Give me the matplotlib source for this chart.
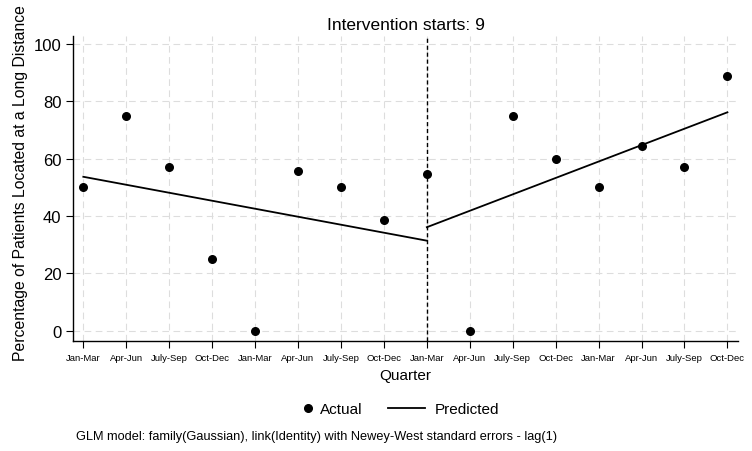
import matplotlib
matplotlib.use("Agg")
import matplotlib.pyplot as plt
from matplotlib.lines import Line2D

plt.rcParams['font.family'] = ['Liberation Sans', 'DejaVu Sans']

quarters = ["Jan-Mar", "Apr-Jun", "July-Sep", "Oct-Dec", "Jan-Mar", "Apr-Jun", "July-Sep", "Oct-Dec",
            "Jan-Mar", "Apr-Jun", "July-Sep", "Oct-Dec", "Jan-Mar", "Apr-Jun", "July-Sep", "Oct-Dec"]
time = list(range(1, 17))
actual = [50.0, 75.0, 57.1, 25.0, 0.0, 55.6, 50.0, 38.5, 54.5, 0.0, 75.0, 60.0, 50.0, 64.3, 57.1, 88.9]
pred_pre_x = [1, 9]
pred_pre_y = [53.7, 31.4]
pred_post_x = [9, 16]
pred_post_y = [36.1, 76.2]
intervention = 9
yticks = [0, 20, 40, 60, 80, 100]

fig = plt.figure(figsize=(7.52, 4.52), dpi=100)
ax = fig.add_axes([0.0975, 0.2434, 0.8835, 0.6746])

ax.set_xlim(0.767, 16.24)
ax.set_ylim(-3.6, 102.8)

ax.grid(True, color='#dddddd', linestyle=(0, (6, 4)), linewidth=0.8)
ax.set_axisbelow(True)

ax.scatter(time, actual, s=30, color='black', zorder=3)
ax.plot(pred_pre_x, pred_pre_y, color='black', linewidth=1.3, zorder=3)
ax.plot(pred_post_x, pred_post_y, color='black', linewidth=1.3, zorder=3)
ax.axvline(intervention, color='black', linestyle=(0, (3, 2)), linewidth=1.0, zorder=2)

ax.set_xticks(time)
ax.set_xticklabels(quarters, fontsize=6.8)
ax.set_yticks(yticks)
ax.tick_params(axis='y', labelsize=12, length=5, width=0.8, direction='out')
ax.tick_params(axis='x', length=5, width=0.8, direction='out', pad=4)

for s in ['top', 'right']:
    ax.spines[s].set_visible(False)
for s in ['left', 'bottom']:
    ax.spines[s].set_linewidth(1.0)

ax.set_xlabel("Quarter", fontsize=11, labelpad=4)
ax.set_ylabel("Percentage of Patients Located at a Long Distance", fontsize=11.3)
ax.yaxis.set_label_coords(-0.068, 0.52)

fig.text(406 / 752, 1 - 25 / 452, "Intervention starts: 9", fontsize=12.5, ha='center', va='center')

leg_y = 1 - 410 / 452
h1 = [Line2D([], [], marker='o', color='black', linestyle='none', markersize=5.5)]
fig.legend(h1, ["Actual"], loc='center left', bbox_to_anchor=(302 / 752, leg_y),
           frameon=False, fontsize=11, handlelength=0.8, handletextpad=0.35,
           borderaxespad=0, borderpad=0)
h2 = [Line2D([], [], color='black', linewidth=1.3)]
fig.legend(h2, ["Predicted"], loc='center left', bbox_to_anchor=(388 / 752, leg_y),
           frameon=False, fontsize=11, handlelength=2.4, handletextpad=0.65,
           borderaxespad=0, borderpad=0)

fig.text(76 / 752, 1 - 437 / 452,
         "GLM model: family(Gaussian), link(Identity) with Newey-West standard errors - lag(1)",
         fontsize=9.2, ha='left', va='center')

fig.savefig("out.png", dpi=100)
